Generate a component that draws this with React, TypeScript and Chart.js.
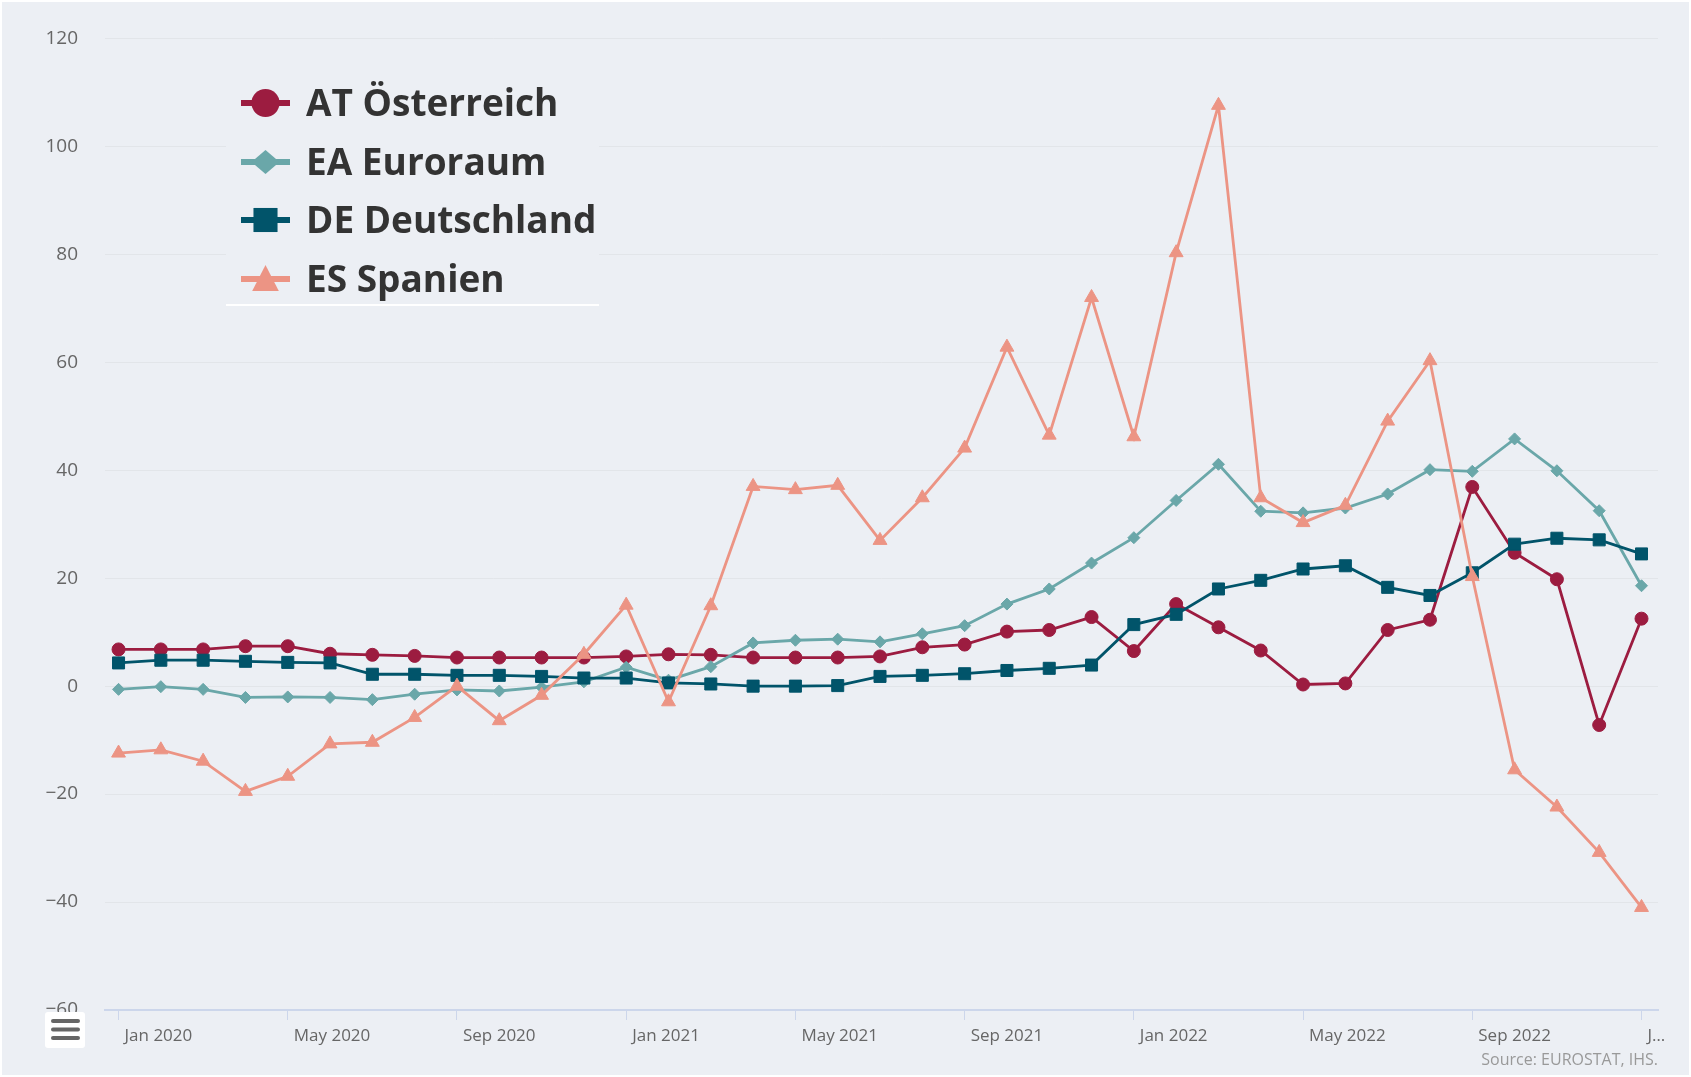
import React, { useEffect, useRef } from "react";
import { Chart, registerables } from "chart.js";

Chart.register(...registerables);

const months = [
  "Jan 2020", "Feb 2020", "Mar 2020", "Apr 2020", "May 2020", "Jun 2020", "Jul 2020", "Aug 2020", "Sep 2020", "Oct 2020", "Nov 2020", "Dec 2020",
  "Jan 2021", "Feb 2021", "Mar 2021", "Apr 2021", "May 2021", "Jun 2021", "Jul 2021", "Aug 2021", "Sep 2021", "Oct 2021", "Nov 2021", "Dec 2021",
  "Jan 2022", "Feb 2022", "Mar 2022", "Apr 2022", "May 2022", "Jun 2022", "Jul 2022", "Aug 2022", "Sep 2022", "Oct 2022", "Nov 2022", "Dec 2022",
  "Jan 2023",
];

const tickPositions = [0, 4, 8, 12, 16, 20, 24, 28, 32, 36];
const tickLabels = ["Jan 2020", "May 2020", "Sep 2020", "Jan 2021", "May 2021", "Sep 2021", "Jan 2022", "May 2022", "Sep 2022", "J…"];

const atValues = [6.8, 6.8, 6.8, 7.4, 7.4, 6.0, 5.8, 5.6, 5.3, 5.3, 5.3, 5.3, 5.5, 5.9, 5.8, 5.3, 5.3, 5.3, 5.5, 7.2, 7.7, 10.1, 10.4, 12.8, 6.5, 15.2, 10.9, 6.6, 0.3, 0.5, 10.4, 12.3, 36.9, 24.7, 19.8, -7.2, 12.5];
const eaValues = [-0.6, -0.1, -0.6, -2.1, -2.0, -2.1, -2.5, -1.5, -0.7, -0.9, -0.2, 0.8, 3.5, 1.1, 3.6, 8.0, 8.5, 8.7, 8.2, 9.7, 11.2, 15.2, 18.0, 22.8, 27.5, 34.4, 41.1, 32.4, 32.1, 33.0, 35.6, 40.1, 39.8, 45.8, 39.9, 32.5, 18.6];
const deValues = [4.3, 4.8, 4.8, 4.6, 4.4, 4.3, 2.2, 2.2, 2.0, 2.0, 1.8, 1.5, 1.5, 0.6, 0.4, 0.0, 0.0, 0.1, 1.8, 2.0, 2.3, 2.9, 3.3, 3.9, 11.4, 13.3, 18.0, 19.6, 21.7, 22.3, 18.3, 16.8, 21.0, 26.3, 27.4, 27.1, 24.5];
const esValues = [-12.4, -11.8, -13.9, -19.5, -16.7, -10.7, -10.4, -5.8, 0.0, -6.4, -1.7, 5.9, 15.0, -2.9, 14.9, 37.0, 36.4, 37.2, 27.0, 34.9, 44.1, 62.8, 46.5, 72.0, 46.2, 80.3, 107.6, 34.9, 30.3, 33.5, 49.1, 60.3, 20.3, -15.5, -22.4, -30.8, -41.0];

const seriesLabels = ["AT Österreich", "EA Euroraum", "DE Deutschland", "ES Spanien"];
const seriesColors = ["#9c1c40", "#6aa7a9", "#01546a", "#ec9484"];
const seriesShapes = ["circle", "rectRot", "rect", "triangle"];
const seriesRadius = [6.5, 6, 8.5, 8];

const sourceText = "Source: EUROSTAT, IHS.";

const W = 1691;
const H = 1077;
const BG = "#eceff4";
const FONT = "'Open Sans', sans-serif";

const toPoints = (vals: number[]) => vals.map((v, i) => ({ x: i, y: v, m: months[i] }));

function drawShape(ctx: CanvasRenderingContext2D, shape: string, x: number, y: number, s: number) {
  ctx.beginPath();
  if (shape === "circle") {
    ctx.arc(x, y, s, 0, Math.PI * 2);
  } else if (shape === "rectRot") {
    ctx.moveTo(x, y - s * 0.85);
    ctx.lineTo(x + s, y);
    ctx.lineTo(x, y + s * 0.85);
    ctx.lineTo(x - s, y);
    ctx.closePath();
  } else if (shape === "rect") {
    ctx.rect(x - s * 0.86, y - s * 0.86, s * 1.72, s * 1.72);
  } else {
    ctx.moveTo(x, y - s);
    ctx.lineTo(x + s * 0.95, y + s * 0.85);
    ctx.lineTo(x - s * 0.95, y + s * 0.85);
    ctx.closePath();
  }
  ctx.fill();
}

const decorPlugin = {
  id: "decor",
  beforeDraw(chart: any) {
    const ctx = chart.ctx;
    ctx.save();
    ctx.fillStyle = "#ffffff";
    ctx.fillRect(0, 0, W, H);
    ctx.fillStyle = BG;
    ctx.fillRect(2, 2, W - 4, H - 4);
    ctx.restore();
  },
  beforeDatasetsDraw(chart: any) {
    const ctx = chart.ctx;
    ctx.save();
    // legend box
    ctx.fillStyle = BG;
    ctx.fillRect(226, 62, 373, 243);
    ctx.fillStyle = "#ffffff";
    ctx.fillRect(226, 304, 373, 2);
    const ys = [103, 162, 220, 279];
    chart.data.datasets.forEach((ds: any, i: number) => {
      const cy = ys[i];
      ctx.strokeStyle = ds.borderColor;
      ctx.lineWidth = 6;
      ctx.beginPath();
      ctx.moveTo(241, cy);
      ctx.lineTo(290, cy);
      ctx.stroke();
      ctx.fillStyle = ds.borderColor;
      drawShape(ctx, ds.pointStyle, 265.5, cy, 14);
      ctx.fillStyle = "#333333";
      ctx.font = `bold 37px ${FONT}`;
      ctx.textAlign = "left";
      ctx.textBaseline = "alphabetic";
      ctx.fillText(ds.label, 306, cy + 13);
    });
    ctx.restore();
  },
  afterDraw(chart: any) {
    const ctx = chart.ctx;
    ctx.save();
    // source credit
    ctx.fillStyle = "#999999";
    ctx.font = `16px ${FONT}`;
    ctx.textAlign = "right";
    ctx.textBaseline = "alphabetic";
    ctx.fillText(sourceText, 1658, 1065);
    // menu icon
    ctx.fillStyle = "#ffffff";
    ctx.beginPath();
    ctx.roundRect(45, 1012, 40, 36, 3);
    ctx.fill();
    ctx.strokeStyle = "#666666";
    ctx.lineWidth = 4;
    ctx.lineCap = "round";
    [1021, 1029.5, 1038].forEach((yy) => {
      ctx.beginPath();
      ctx.moveTo(53, yy);
      ctx.lineTo(78, yy);
      ctx.stroke();
    });
    ctx.restore();
  },
};

export default function App() {
  const ref = useRef<HTMLCanvasElement | null>(null);

  useEffect(() => {
    if (!ref.current) return;
    const allValues = [atValues, eaValues, deValues, esValues];
    const chart = new Chart(ref.current, {
      type: "line",
      data: {
        datasets: allValues.map((vals, i) => ({
          label: seriesLabels[i],
          data: toPoints(vals),
          borderColor: seriesColors[i],
          backgroundColor: seriesColors[i],
          pointBackgroundColor: seriesColors[i],
          pointBorderColor: seriesColors[i],
          pointBorderWidth: 1,
          pointStyle: seriesShapes[i] as any,
          pointRadius: seriesRadius[i],
          borderWidth: 2.8,
          tension: 0,
          fill: false,
          order: 4 - i,
        })),
      },
      options: {
        responsive: false,
        animation: false,
        devicePixelRatio: 1,
        layout: { padding: { top: 34, right: 33, left: 0, bottom: 0 } },
        plugins: {
          legend: { display: false },
          tooltip: { enabled: false },
        },
        scales: {
          x: {
            type: "linear",
            min: -0.32,
            max: 36.39,
            afterBuildTicks: (scale: any) => {
              scale.ticks = tickPositions.map((v) => ({ value: v }));
            },
            afterFit: (scale: any) => {
              scale.height = 67;
            },
            ticks: {
              autoSkip: false,
              maxRotation: 0,
              align: "start",
              labelOffset: 6,
              padding: 6,
              color: "#666666",
              font: { family: FONT, size: 17 },
              callback: (v: any) => {
                const k = tickPositions.indexOf(Number(v));
                return k >= 0 ? tickLabels[k] : "";
              },
            },
            grid: {
              display: true,
              drawOnChartArea: false,
              drawTicks: true,
              tickLength: 10,
              color: "#ccd6eb",
              lineWidth: 1,
            },
            border: { display: true, color: "#ccd6eb", width: 2 },
          },
          y: {
            min: -60,
            max: 120,
            afterFit: (scale: any) => {
              scale.width = 105;
            },
            ticks: {
              stepSize: 20,
              padding: 27,
              color: "#666666",
              font: { family: FONT, size: 19 },
              callback: (v: any) => (Number(v) < 0 ? "\u2212" + Math.abs(Number(v)) : String(v)),
            },
            grid: {
              color: "#e2e5e9",
              lineWidth: 1,
              drawTicks: false,
            },
            border: { display: false },
          },
        },
      },
      plugins: [decorPlugin],
    });
    return () => chart.destroy();
  }, []);

  return (
    <div style={{ position: "absolute", left: 0, top: 0, width: W, height: H, overflow: "hidden" }}>
      <canvas ref={ref} width={W} height={H} style={{ display: "block", width: W, height: H }} />
    </div>
  );
}
